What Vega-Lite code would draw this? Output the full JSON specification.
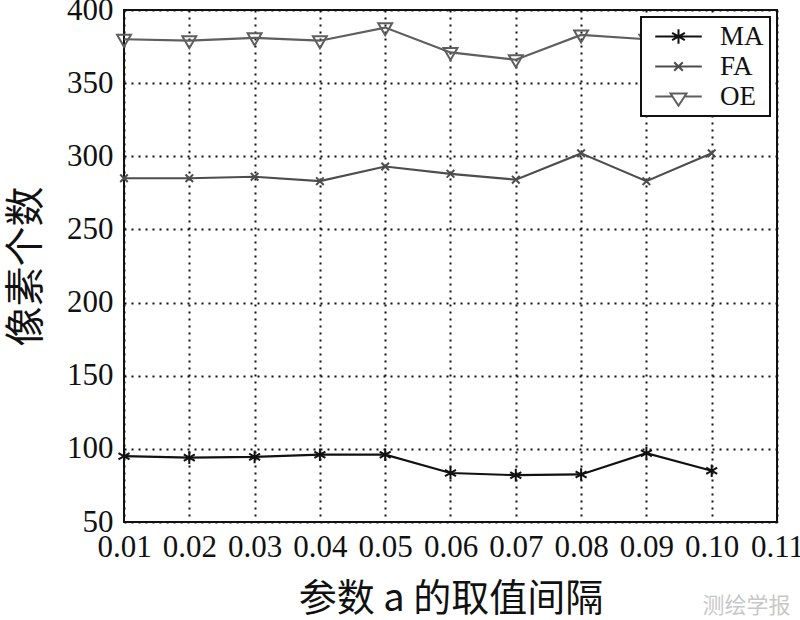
{
  "$schema": "https://vega.github.io/schema/vega-lite/v6.json",
  "autosize": "none",
  "width": 653,
  "height": 512,
  "padding": {"left": 124, "top": 10, "right": 23, "bottom": 98},
  "background": "white",
  "config": {
    "font": "Liberation Serif",
    "view": {"stroke": "#111", "strokeWidth": 2},
    "axis": {
      "labelFont": "Liberation Serif",
      "labelFontSize": 31,
      "labelColor": "#111",
      "titleColor": "#111",
      "domain": false,
      "ticks": false,
      "grid": true,
      "gridColor": "#111",
      "gridDash": [2, 5],
      "gridWidth": 2,
      "gridOpacity": 1
    }
  },
  "title": {
    "text": "测绘学报",
    "orient": "bottom",
    "anchor": "end",
    "font": "Noto Sans CJK SC",
    "fontSize": 22,
    "fontWeight": "normal",
    "color": "#c8c8c8",
    "offset": -22,
    "dx": -13
  },
  "data": {
    "values": [
      {"a": 0.01, "series": "MA", "v": 95},
      {"a": 0.02, "series": "MA", "v": 94},
      {"a": 0.03, "series": "MA", "v": 94.5},
      {"a": 0.04, "series": "MA", "v": 96},
      {"a": 0.05, "series": "MA", "v": 96},
      {"a": 0.06, "series": "MA", "v": 83.5},
      {"a": 0.07, "series": "MA", "v": 82},
      {"a": 0.08, "series": "MA", "v": 82.5},
      {"a": 0.09, "series": "MA", "v": 97},
      {"a": 0.10, "series": "MA", "v": 85},
      {"a": 0.01, "series": "FA", "v": 285},
      {"a": 0.02, "series": "FA", "v": 285},
      {"a": 0.03, "series": "FA", "v": 286},
      {"a": 0.04, "series": "FA", "v": 283},
      {"a": 0.05, "series": "FA", "v": 293},
      {"a": 0.06, "series": "FA", "v": 288},
      {"a": 0.07, "series": "FA", "v": 284},
      {"a": 0.08, "series": "FA", "v": 302},
      {"a": 0.09, "series": "FA", "v": 283},
      {"a": 0.10, "series": "FA", "v": 302},
      {"a": 0.01, "series": "OE", "v": 380},
      {"a": 0.02, "series": "OE", "v": 379},
      {"a": 0.03, "series": "OE", "v": 381},
      {"a": 0.04, "series": "OE", "v": 379},
      {"a": 0.05, "series": "OE", "v": 388},
      {"a": 0.06, "series": "OE", "v": 371},
      {"a": 0.07, "series": "OE", "v": 366},
      {"a": 0.08, "series": "OE", "v": 383},
      {"a": 0.09, "series": "OE", "v": 380},
      {"a": 0.10, "series": "OE", "v": 381}
    ]
  },
  "encoding": {
    "x": {
      "field": "a",
      "type": "quantitative",
      "scale": {"domain": [0.01, 0.11], "nice": false, "zero": false},
      "axis": {
        "values": [0.01, 0.02, 0.03, 0.04, 0.05, 0.06, 0.07, 0.08, 0.09, 0.10, 0.11],
        "format": ".2f",
        "labelPadding": 10,
        "labelFlush": false,
        "labelOverlap": false,
        "title": "参数 a 的取值间隔",
        "titleFont": "Noto Sans CJK SC",
        "titleFontSize": 38,
        "titleFontWeight": "normal",
        "titlePadding": 18
      }
    },
    "y": {
      "field": "v",
      "type": "quantitative",
      "scale": {"domain": [50, 400], "nice": false, "zero": false},
      "axis": {
        "values": [50, 100, 150, 200, 250, 300, 350, 400],
        "labelPadding": 11,
        "labelFlush": false,
        "labelOverlap": false,
        "title": "像素个数",
        "titleFont": "Noto Sans CJK SC",
        "titleFontSize": 40,
        "titleFontWeight": "normal",
        "titlePadding": 20
      }
    },
    "color": {
      "field": "series",
      "type": "nominal",
      "scale": {"domain": ["MA", "FA", "OE"], "range": ["#111111", "#4d4d4d", "#5e5e5e"]},
      "legend": {
        "title": null,
        "orient": "top-right",
        "offset": 7,
        "zindex": 1,
        "fillColor": "white",
        "strokeColor": "#111",
        "padding": 6,
        "labelFont": "Liberation Serif",
        "labelFontSize": 27,
        "labelColor": "#111",
        "symbolSize": 150,
        "symbolStrokeWidth": 2,
        "symbolOffset": 18,
        "rowPadding": 2,
        "labelOffset": 28,
        "encode": {
          "legend": {
            "update": {
              "strokeWidth": {"value": 2}
            }
          },
          "symbols": {
            "update": {
              "shape": {
                "signal": "datum.value === 'MA' ? 'M-3.8,0L3.8,0M0,-1.2L0,1.2M-1.04,-0.6L1.04,0.6M-1.04,0.6L1.04,-0.6' : datum.value === 'FA' ? 'M-3.8,0L3.8,0M-0.7,-0.7L0.7,0.7M0.7,-0.7L-0.7,0.7' : 'M-3.8,0L-1.1,0M1.1,0L3.8,0M-1.3,-0.5L1.3,-0.5L0,1.5Z'"
              },
              "fill": {"value": "transparent"},
              "strokeWidth": {"value": 2}
            }
          }
        }
      }
    }
  },
  "layer": [
    {
      "mark": {"type": "line", "strokeWidth": 2.2},
      "encoding": {}
    },
    {
      "transform": [{"filter": "datum.series === 'MA'"}],
      "mark": {"type": "point", "filled": false, "strokeWidth": 2, "size": 160, "opacity": 1,
        "shape": "M0,-1L0,1M-0.87,-0.5L0.87,0.5M-0.87,0.5L0.87,-0.5"},
      "encoding": {}
    },
    {
      "transform": [{"filter": "datum.series === 'FA'"}],
      "mark": {"type": "point", "filled": false, "strokeWidth": 2, "size": 160, "opacity": 1,
        "shape": "M-0.6,-0.6L0.6,0.6M0.6,-0.6L-0.6,0.6"},
      "encoding": {}
    },
    {
      "transform": [{"filter": "datum.series === 'OE'"}],
      "mark": {"type": "point", "filled": false, "strokeWidth": 2, "size": 160, "opacity": 1,
        "shape": "M-1.1,-0.7L1.1,-0.7L0,1.2Z"},
      "encoding": {}
    }
  ]
}
